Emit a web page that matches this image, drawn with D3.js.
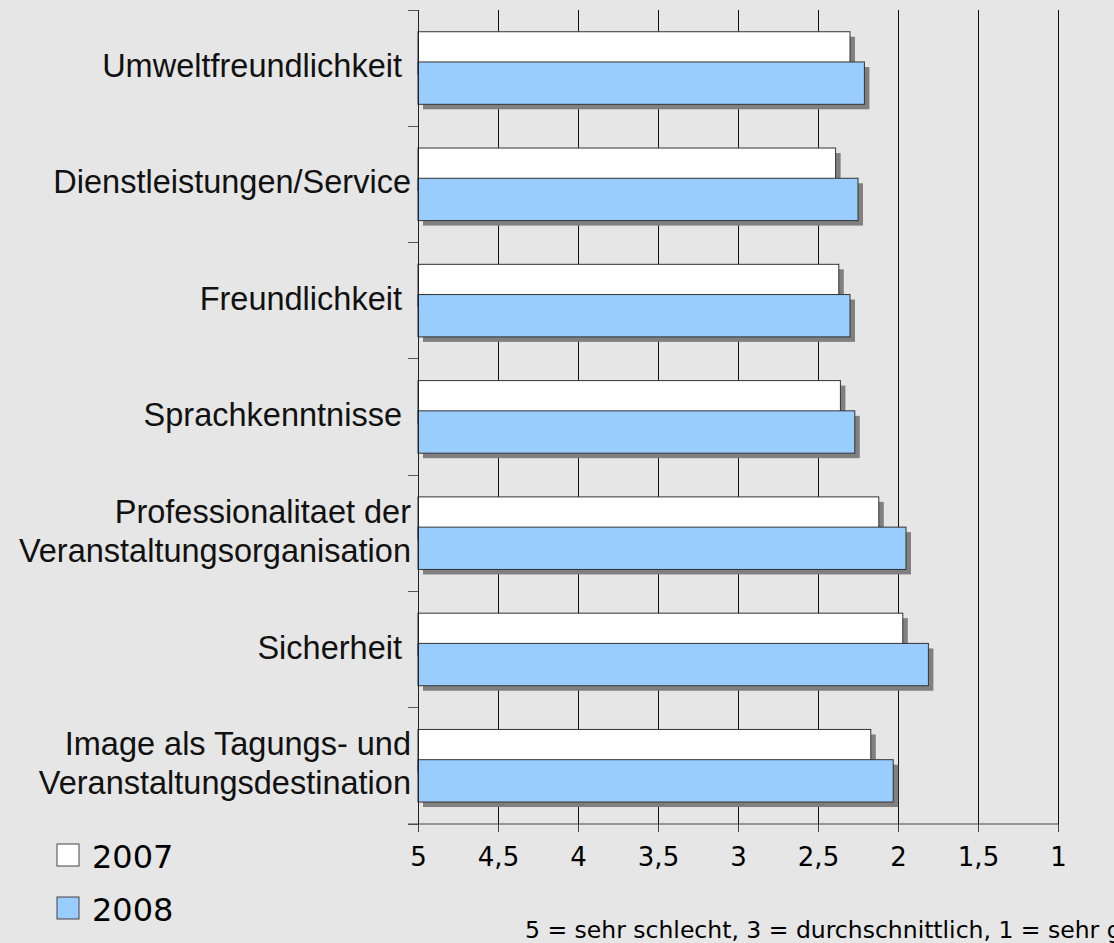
<!DOCTYPE html>
<html>
<head>
<meta charset="utf-8">
<script src="https://cdn.jsdelivr.net/npm/d3@7"></script>
<style>
  body { margin: 0; background: #e5e6e5; }
  svg { display: block; }
  .lbl { white-space: pre; }
</style>
</head>
<body>
<svg></svg>
<script>
// categories, top to bottom (label lines as shown)
const categories = [
    ['Umweltfreundlichkeit '],
    ['Dienstleistungen/Service'],
    ['Freundlichkeit '],
    ['Sprachkenntnisse '],
    ['Professionalitaet der', 'Veranstaltungsorganisation'],
    ['Sicherheit '],
    ['Image als Tagungs- und', 'Veranstaltungsdestination']
]
const years = ['2007', '2008']
const values2007 = [2.30, 2.39, 2.37, 2.36, 2.12, 1.97, 2.17]
const values2008 = [2.21, 2.25, 2.30, 2.27, 1.95, 1.81, 2.03]
const xTicks = [5, 4.5, 4, 3.5, 3, 2.5, 2, 1.5, 1]
const note = '5 = sehr schlecht, 3 = durchschnittlich, 1 = sehr gut'

const colors = ['#ffffff', '#99ccff']
const series = [values2007, values2008]

const svg = d3.select('svg')
    .attr('width', 1114)
    .attr('height', 943)

const xScale = d3.scaleLinear()
    .domain([5, 1])
    .range([418, 1058])

const yScale = d3.scaleBand()
    .domain(d3.range(categories.length))
    .range([10, 824])

const bw = yScale.bandwidth()
const barH = bw * 0.364
const barOffsets = [bw * 0.187, bw * 0.447]

// grid lines
svg.append('g')
    .selectAll('line')
    .data(xTicks)
    .join('line')
    .attr('x1', d => xScale(d))
    .attr('x2', d => xScale(d))
    .attr('y1', 10)
    .attr('y2', 824)
    .attr('stroke', '#111')
    .attr('stroke-width', 1)
    .attr('shape-rendering', 'crispEdges')

// bars (shadow first, then bar), 2007 then 2008 so 2008 overlaps
const bars = svg.append('g')
series.forEach((vals, s) => {
    const g = bars.append('g')
    const data = vals.map((v, i) => ({ i, v }))
    g.selectAll('rect.shadow')
        .data(data)
        .join('rect')
        .attr('class', 'shadow')
        .attr('x', xScale(5) + 5)
        .attr('y', d => yScale(d.i) + barOffsets[s] + 5)
        .attr('width', d => xScale(d.v) - xScale(5))
        .attr('height', barH)
        .attr('fill', '#808080')
    g.selectAll('rect.bar')
        .data(data)
        .join('rect')
        .attr('class', 'bar')
        .attr('x', xScale(5))
        .attr('y', d => yScale(d.i) + barOffsets[s])
        .attr('width', d => xScale(d.v) - xScale(5))
        .attr('height', barH)
        .attr('fill', colors[s])
        .attr('stroke', '#333')
        .attr('stroke-width', 1)
})

// y axis: line + ticks at band boundaries
const yBounds = d3.range(categories.length + 1).map(i => 10 + i * bw)
svg.append('line')
    .attr('x1', 418).attr('x2', 418)
    .attr('y1', 10).attr('y2', 824)
    .attr('stroke', '#222')
    .attr('shape-rendering', 'crispEdges')
svg.append('g')
    .selectAll('line')
    .data(yBounds)
    .join('line')
    .attr('x1', 408).attr('x2', 418)
    .attr('y1', d => d).attr('y2', d => d)
    .attr('stroke', '#555')
    .attr('shape-rendering', 'crispEdges')

// x axis
const xAxis = d3.axisBottom(xScale)
    .tickValues(xTicks)
    .tickSize(8)
    .tickPadding(16)
    .tickFormat(d => String(d).replace('.', ','))
const gx = svg.append('g')
    .attr('transform', 'translate(0,824)')
    .call(xAxis)
gx.select('.domain')
    .attr('d', 'M408,0H1058')
    .attr('stroke', '#444')
gx.selectAll('.tick line').attr('stroke', '#444')
gx.selectAll('.tick text')
    .attr('fill', '#000')
    .attr('font-family', 'DejaVu Sans')
    .attr('font-size', 26)

// category labels
const labels = svg.append('g')
    .attr('font-family', 'Liberation Sans, Arial')
    .attr('font-size', 32.5)
    .attr('fill', '#111')
    .attr('text-anchor', 'end')
categories.forEach((lines, i) => {
    const cy = yScale(i) + bw / 2
    const lh = 39
    const first = cy + 9 - (lines.length - 1) * lh / 2
    const t = labels.append('text').attr('class', 'lbl')
    lines.forEach((ln, k) => {
        t.append('tspan')
            .attr('x', 411)
            .attr('y', first + k * lh)
            .text(ln)
    })
})

// legend
const legend = svg.append('g')
    .selectAll('g')
    .data(years)
    .join('g')
    .attr('transform', (d, i) => `translate(57,${844 + i * 53})`)
legend.append('rect')
    .attr('width', 22).attr('height', 22)
    .attr('fill', (d, i) => colors[i])
    .attr('stroke', '#444')
legend.append('text')
    .attr('x', 35)
    .attr('y', 24)
    .attr('font-family', 'DejaVu Sans')
    .attr('font-size', 32)
    .attr('fill', '#000')
    .text(d => d)

// note (runs off the right edge, as in the original)
svg.append('text')
    .attr('x', 525)
    .attr('y', 938)
    .attr('font-family', 'DejaVu Sans')
    .attr('font-size', 23.5)
    .attr('fill', '#000')
    .text(note)
</script>
</body>
</html>
